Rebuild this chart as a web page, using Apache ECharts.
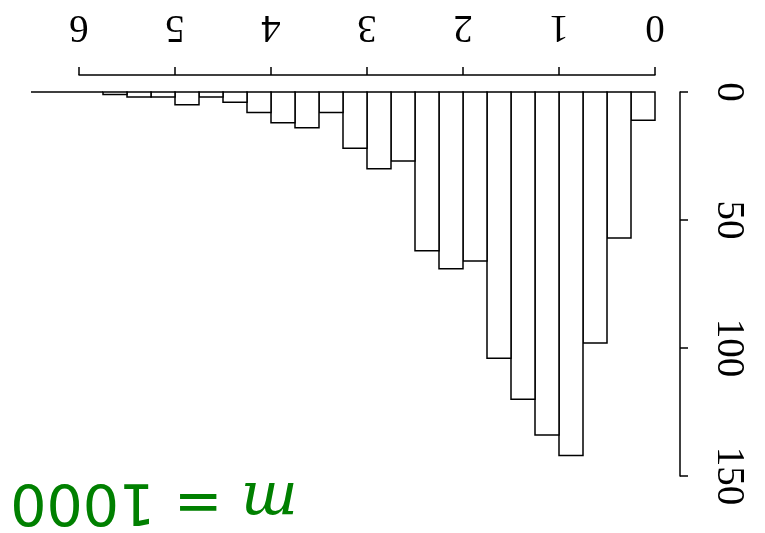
<!DOCTYPE html>
<html>
<head>
<meta charset="utf-8">
<script src="https://cdn.jsdelivr.net/npm/echarts@6/dist/echarts.min.js"></script>
<style>
  html, body { margin: 0; padding: 0; background: #fff; }
  #chart { width: 765px; height: 533px; }
</style>
</head>
<body>
<div id="chart"></div>
<script>
// Histogram bin edges (left edge of each bin) and bin width
const binStarts = [0, 0.25, 0.5, 0.75, 1, 1.25, 1.5, 1.75, 2, 2.25, 2.5, 2.75, 3,
                   3.25, 3.5, 3.75, 4, 4.25, 4.5, 4.75, 5, 5.25, 5.5, 5.75, 6, 6.25];
const binWidth = 0.25;
// Counts per bin (m = 1000 samples)
const counts = [11, 57, 98, 142, 134, 120, 104, 66, 69, 62, 27, 30, 22,
                8, 14, 12, 8, 4, 2, 5, 2, 2, 1, 0, 0, 0];
// Axis tick labels
const xTicks = [0, 1, 2, 3, 4, 5, 6];
const yTicks = [0, 50, 100, 150];
const sampleLabel = 'm';
const sampleSize = '1000';

const data = binStarts.map((s, i) => [s, s + binWidth, counts[i]]);

const chart = echarts.init(document.getElementById('chart'), null, { renderer: 'canvas' });

const axisFont = 'Liberation Serif';

chart.setOption({
  backgroundColor: '#ffffff',
  animation: false,
  grid: { left: 79, right: 110, top: 92, bottom: 57, containLabel: false },
  xAxis: {
    type: 'value',
    min: xTicks[0],
    max: xTicks[xTicks.length - 1],
    interval: 1,
    inverse: true,
    position: 'top',
    offset: 17,
    splitLine: { show: false },
    axisLine: { show: true, onZero: false, lineStyle: { color: '#000', width: 1.5 } },
    axisTick: { show: true, length: 8, lineStyle: { color: '#000', width: 1.5 } },
    axisLabel: {
      rotate: 180,
      margin: 29,
      color: '#000',
      fontFamily: axisFont,
      fontSize: 39
    }
  },
  yAxis: {
    type: 'value',
    min: yTicks[0],
    max: yTicks[yTicks.length - 1],
    interval: 50,
    inverse: true,
    position: 'right',
    offset: 25,
    splitLine: { show: false },
    axisLine: { show: true, onZero: false, lineStyle: { color: '#000', width: 1.5 } },
    axisTick: { show: true, length: 8, lineStyle: { color: '#000', width: 1.5 } },
    axisLabel: {
      rotate: -90,
      margin: 29,
      color: '#000',
      fontFamily: axisFont,
      fontSize: 39
    }
  },
  series: [{
    type: 'custom',
    clip: false,
    encode: { x: [0, 1], y: 2 },
    data: data,
    renderItem: function (params, api) {
      const a = api.coord([api.value(0), 0]);
      const b = api.coord([api.value(1), api.value(2)]);
      return {
        type: 'rect',
        shape: {
          x: Math.min(a[0], b[0]),
          y: Math.min(a[1], b[1]),
          width: Math.abs(b[0] - a[0]),
          height: Math.abs(b[1] - a[1])
        },
        style: { fill: '#ffffff', stroke: '#000000', lineWidth: 1.5 }
      };
    }
  }],
  graphic: [{
    type: 'text',
    x: 154,
    y: 499,
    rotation: Math.PI,
    style: {
      text: '{m|' + sampleLabel + '}{eq| = }{n|' + sampleSize + '}',
      align: 'center',
      verticalAlign: 'middle',
      fill: '#008000',
      rich: {
        m: { fontFamily: 'DejaVu Serif', fontStyle: 'italic', fontSize: 60, fill: '#008000' },
        eq: { fontFamily: 'DejaVu Sans', fontSize: 58, fill: '#008000' },
        n: { fontFamily: 'DejaVu Sans', fontSize: 57, fill: '#008000' }
      }
    }
  }]
});
</script>
</body>
</html>
